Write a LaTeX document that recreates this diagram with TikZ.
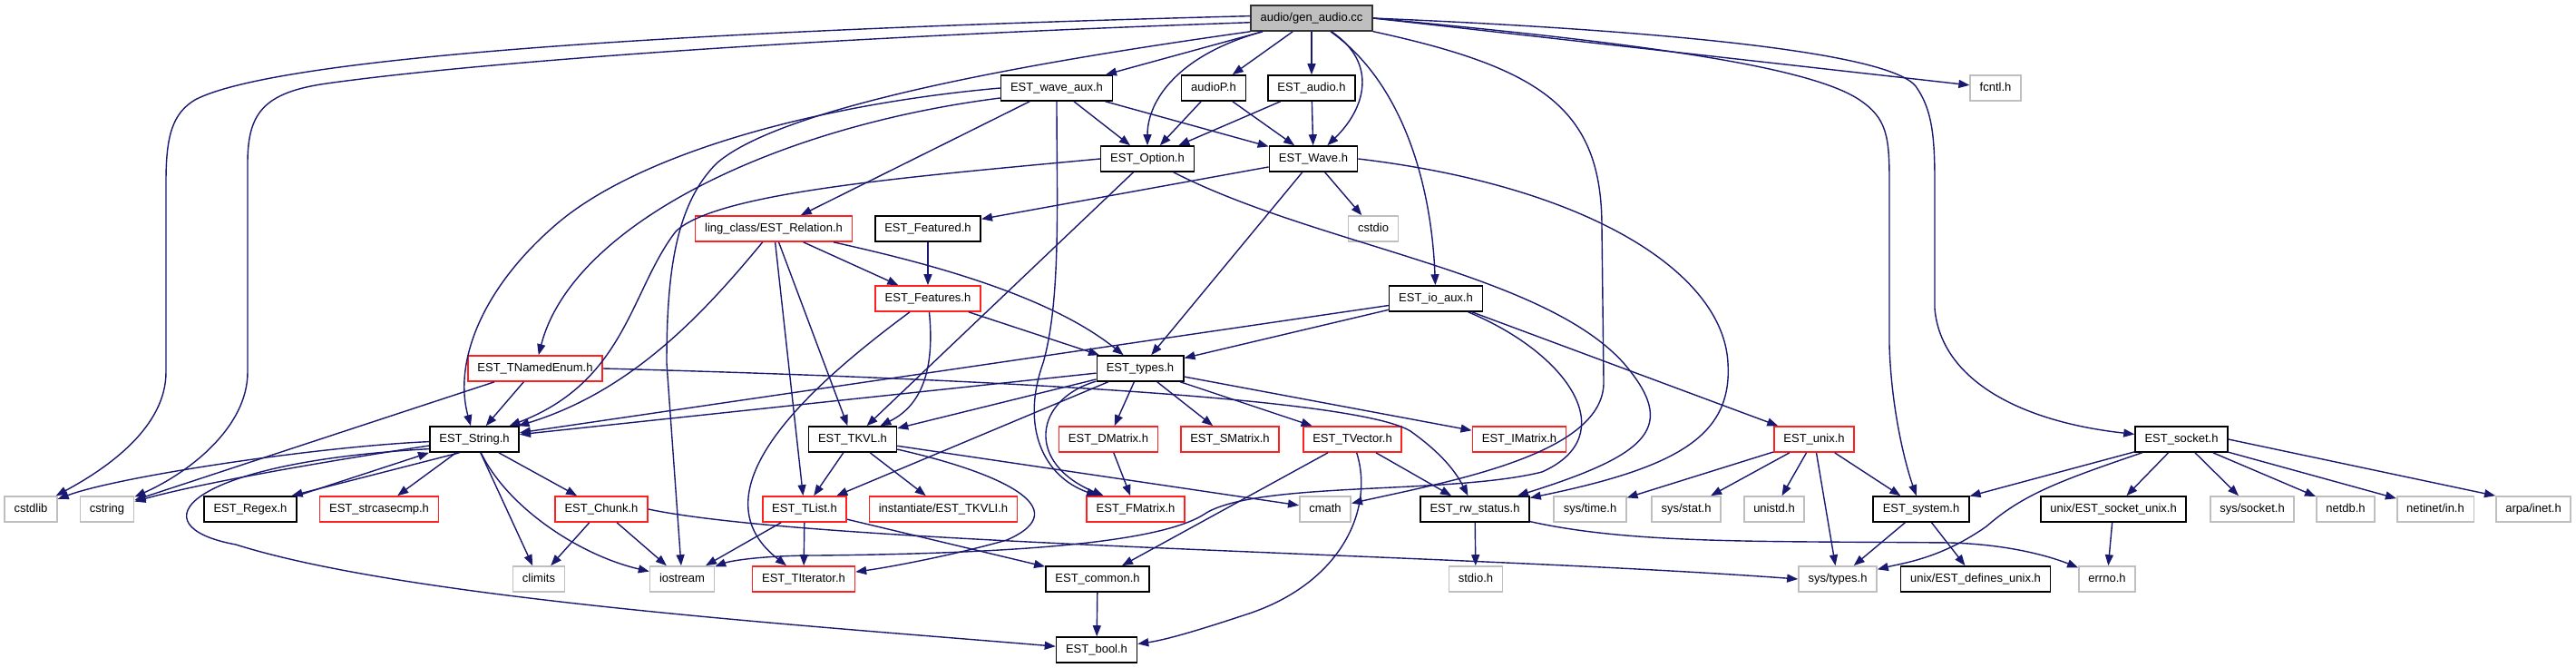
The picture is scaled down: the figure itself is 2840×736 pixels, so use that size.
\documentclass[tikz,border=0pt]{standalone}
\usepackage{fontspec}
\setmainfont{Liberation Sans}
\usepackage{xcolor}
\definecolor{docblue}{HTML}{191970}
\definecolor{docgray}{HTML}{BFBFBF}
\definecolor{docred}{HTML}{FF2020}
\usetikzlibrary{arrows.meta}

\begin{document}
\begin{tikzpicture}[
		x=1pt, y=-1pt,
		>={Triangle[length=12pt,width=9pt]},
		every node/.style={font=\fontsize{13}{15}\selectfont, minimum height=28pt, inner xsep=10.5pt, inner ysep=0pt, text height=9.4pt, text depth=2.6pt, line width=1.6pt, fill=white},
		topfile/.style={draw=black!80, fill=docgray},
		usrfile/.style={draw=black},
		redfile/.style={draw=docred},
		sysfile/.style={draw=docgray},
		incl/.style={->, draw=docblue, line width=1.4pt}
	]
		\def\rA{20}
		\def\rB{97}
		\def\rC{175}
		\def\rD{252}
		\def\rE{329}
		\def\rF{406}
		\def\rG{484}
		\def\rH{561}
		\def\rI{638}
		\def\rJ{716}

		\useasboundingbox (0,0) rectangle (2840,736);

		% The file itself
		\node[topfile] (GenAudio) at (1446,\rA) {audio/gen\_audio.cc};

		% Headers, row by row
		\node[usrfile] (WaveAux) at (1165,\rB) {EST\_wave\_aux.h};
		\node[usrfile] (AudioP) at (1338,\rB) {audioP.h};
		\node[usrfile] (EstAudio) at (1446,\rB) {EST\_audio.h};
		\node[sysfile] (Fcntl) at (2200,\rB) {fcntl.h};

		\node[usrfile] (Option) at (1265,\rC) {EST\_Option.h};
		\node[usrfile] (Wave) at (1448,\rC) {EST\_Wave.h};

		\node[redfile] (Relation) at (853,\rD) {ling\_class/EST\_Relation.h};
		\node[usrfile] (Featured) at (1023,\rD) {EST\_Featured.h};
		\node[sysfile] (CStdio) at (1514,\rD) {cstdio};

		\node[redfile] (Features) at (1023,\rE) {EST\_Features.h};
		\node[usrfile] (IoAux) at (1583,\rE) {EST\_io\_aux.h};

		\node[redfile] (TNamedEnum) at (590,\rF) {EST\_TNamedEnum.h};
		\node[usrfile] (Types) at (1257,\rF) {EST\_types.h};

		\node[usrfile] (EstString) at (523,\rG) {EST\_String.h};
		\node[usrfile] (TKVL) at (940,\rG) {EST\_TKVL.h};
		\node[redfile] (DMatrix) at (1222,\rG) {EST\_DMatrix.h};
		\node[redfile] (SMatrix) at (1356,\rG) {EST\_SMatrix.h};
		\node[redfile] (TVector) at (1491,\rG) {EST\_TVector.h};
		\node[redfile] (IMatrix) at (1675,\rG) {EST\_IMatrix.h};
		\node[redfile] (Unix) at (2000,\rG) {EST\_unix.h};
		\node[usrfile] (Socket) at (2405,\rG) {EST\_socket.h};

		\node[sysfile] (CStdlib) at (34,\rH) {cstdlib};
		\node[sysfile] (CString) at (118,\rH) {cstring};
		\node[usrfile] (Regex) at (276,\rH) {EST\_Regex.h};
		\node[redfile] (StrCaseCmp) at (418,\rH) {EST\_strcasecmp.h};
		\node[redfile] (Chunk) at (663,\rH) {EST\_Chunk.h};
		\node[redfile] (TList) at (887,\rH) {EST\_TList.h};
		\node[redfile] (TKVLI) at (1040,\rH) {instantiate/EST\_TKVLI.h};
		\node[redfile] (FMatrix) at (1252,\rH) {EST\_FMatrix.h};
		\node[sysfile] (CMath) at (1461,\rH) {cmath};
		\node[usrfile] (RwStatus) at (1626,\rH) {EST\_rw\_status.h};
		\node[sysfile] (SysTime) at (1753,\rH) {sys/time.h};
		\node[sysfile] (SysStat) at (1859,\rH) {sys/stat.h};
		\node[sysfile] (Unistd) at (1956,\rH) {unistd.h};
		\node[usrfile] (System) at (2118,\rH) {EST\_system.h};
		\node[usrfile] (SocketUnix) at (2330,\rH) {unix/EST\_socket\_unix.h};
		\node[sysfile] (SysSocket) at (2483,\rH) {sys/socket.h};
		\node[sysfile] (Netdb) at (2586,\rH) {netdb.h};
		\node[sysfile] (Netinet) at (2685,\rH) {netinet/in.h};
		\node[sysfile] (ArpaInet) at (2793,\rH) {arpa/inet.h};

		\node[sysfile] (Climits) at (594,\rI) {climits};
		\node[sysfile] (Iostream) at (752,\rI) {iostream};
		\node[redfile] (TIterator) at (886,\rI) {EST\_TIterator.h};
		\node[usrfile] (Common) at (1210,\rI) {EST\_common.h};
		\node[sysfile] (Stdio) at (1627,\rI) {stdio.h};
		\node[sysfile] (SysTypes) at (2026,\rI) {sys/types.h};
		\node[usrfile] (DefinesUnix) at (2178,\rI) {unix/EST\_defines\_unix.h};
		\node[sysfile] (Errno) at (2323,\rI) {errno.h};

		\node[usrfile] (EstBool) at (1209,\rJ) {EST\_bool.h};

		% Includes of the file itself
		\draw[incl] (GenAudio.178) .. controls (900,30) and (320,55) .. (215,110) .. controls (190,125) and (183,150) .. (183,200) -- (183,410) .. controls (183,470) and (120,515) .. (CStdlib);
		\draw[incl] (GenAudio.184) .. controls (800,45) and (480,75) .. (360,92) .. controls (290,102) and (273,125) .. (273,180) -- (273,410) .. controls (273,470) and (210,520) .. (CString);
		\draw[incl] (GenAudio.south west) .. controls (1200,60) and (870,110) .. (790,180) .. controls (745,225) and (735,300) .. (735,400) -- (Iostream);
		\draw[incl] (GenAudio) -- (WaveAux);
		\draw[incl] (GenAudio) .. controls (1300,60) and (1265,110) .. (Option);
		\draw[incl] (GenAudio) -- (AudioP);
		\draw[incl] (GenAudio) -- (EstAudio);
		\draw[incl] (GenAudio) .. controls (1520,70) and (1505,120) .. (Wave);
		\draw[incl] (GenAudio) .. controls (1545,90) and (1578,200) .. (IoAux);
		\draw[incl] (GenAudio) .. controls (1700,75) and (1766,120) .. (1766,250) -- (1768,420) .. controls (1770,500) and (1600,530) .. (CMath);
		\draw[incl] (GenAudio.east) .. controls (1780,45) and (1990,70) .. (2050,110) .. controls (2080,130) and (2083,150) .. (2083,200) -- (2083,380) .. controls (2085,450) and (2100,510) .. (System);
		\draw[incl] (GenAudio.east) .. controls (1800,32) and (2080,55) .. (2112,95) .. controls (2130,120) and (2133,150) .. (2133,200) -- (2133,340) .. controls (2140,420) and (2230,465) .. (Socket);
		\draw[incl] (GenAudio.east) -- (Fcntl);

		% EST_wave_aux.h, audioP.h, EST_audio.h
		\draw[incl] (WaveAux) -- (Option);
		\draw[incl] (WaveAux) -- (Wave);
		\draw[incl] (WaveAux) -- (Relation);
		\draw[incl] (WaveAux.west) .. controls (900,115) and (700,170) .. (610,250) .. controls (530,320) and (500,400) .. (EstString);
		\draw[incl] (WaveAux.190) .. controls (850,140) and (630,250) .. (TNamedEnum);
		\draw[incl] (WaveAux) .. controls (1165,220) and (1170,330) .. (1150,400) .. controls (1125,470) and (1150,525) .. (FMatrix);
		\draw[incl] (AudioP) -- (Option);
		\draw[incl] (AudioP) -- (Wave);
		\draw[incl] (EstAudio) -- (Option);
		\draw[incl] (EstAudio) -- (Wave);

		% EST_Option.h and EST_Wave.h
		\draw[incl] (Option.west) .. controls (1000,195) and (790,212) .. (745,255) .. controls (695,320) and (690,420) .. (EstString);
		\draw[incl] (Option) -- (TKVL);
		\draw[incl] (Option) .. controls (1450,270) and (1700,300) .. (1790,400) .. controls (1850,470) and (1820,500) .. (RwStatus);
		\draw[incl] (Wave) -- (Featured);
		\draw[incl] (Wave) -- (CStdio);
		\draw[incl] (Wave) -- (Types);
		\draw[incl] (Wave.east) .. controls (1750,205) and (1900,300) .. (1905,400) .. controls (1910,480) and (1850,515) .. (RwStatus);

		% Features and relations
		\draw[incl] (Featured) -- (Features);
		\draw[incl] (Relation) -- (Features);
		\draw[incl] (Relation) .. controls (1000,285) and (1150,320) .. (Types);
		\draw[incl] (Relation) .. controls (780,340) and (700,430) .. (EstString);
		\draw[incl] (Relation) -- (TList);
		\draw[incl] (Relation) -- (TKVL);
		\draw[incl] (Features) -- (Types);
		\draw[incl] (Features) .. controls (1030,400) and (1020,445) .. (TKVL);
		\draw[incl] (Features) .. controls (900,420) and (760,540) .. (TIterator);

		% EST_io_aux.h
		\draw[incl] (IoAux) -- (EstString);
		\draw[incl] (IoAux) -- (Types);
		\draw[incl] (IoAux) -- (Unix);
		\draw[incl] (IoAux) .. controls (1730,390) and (1790,480) .. (1700,520) .. controls (1600,545) and (1390,530) .. (1330,565) .. controls (1280,600) and (1100,610) .. (900,612) .. controls (840,612) and (805,618) .. (Iostream);

		% EST_TNamedEnum.h and EST_types.h
		\draw[incl] (TNamedEnum) -- (CString);
		\draw[incl] (TNamedEnum) -- (EstString);
		\draw[incl] (TNamedEnum.east) .. controls (1000,415) and (1490,435) .. (1555,475) .. controls (1590,500) and (1605,520) .. (RwStatus);
		\draw[incl] (Types) -- (EstString);
		\draw[incl] (Types) -- (TKVL);
		\draw[incl] (Types) -- (TList);
		\draw[incl] (Types) -- (DMatrix);
		\draw[incl] (Types) -- (SMatrix);
		\draw[incl] (Types) -- (TVector);
		\draw[incl] (Types) -- (IMatrix);
		\draw[incl] (Types) .. controls (1140,440) and (1130,510) .. (FMatrix);

		% Templates and matrices
		\draw[incl] (TKVL) -- (TList);
		\draw[incl] (TKVL) -- (TKVLI);
		\draw[incl] (TKVL) -- (CMath);
		\draw[incl] (TKVL) .. controls (1100,520) and (1190,560) .. (1110,595) .. controls (1050,612) and (980,625) .. (TIterator);
		\draw[incl] (DMatrix) -- (FMatrix);
		\draw[incl] (TVector) -- (Common);
		\draw[incl] (TVector) -- (RwStatus);
		\draw[incl] (TVector) .. controls (1515,560) and (1480,640) .. (1380,675) .. controls (1320,695) and (1285,705) .. (EstBool);
		\draw[incl] (TList) -- (Iostream);
		\draw[incl] (TList) -- (TIterator);
		\draw[incl] (TList) -- (Common);
		\draw[incl] (Common) -- (EstBool);

		% EST_String.h and EST_Chunk.h
		\draw[incl] (EstString.183) .. controls (350,492) and (130,525) .. (CStdlib);
		\draw[incl] (EstString.188) .. controls (380,505) and (230,530) .. (CString);
		\draw[incl] (EstString.222) -- (Regex.18);
		\draw[incl] (Regex.north east) -- (EstString.south west);
		\draw[incl] (EstString) -- (StrCaseCmp);
		\draw[incl] (EstString) -- (Chunk);
		\draw[incl] (EstString) -- (Climits);
		\draw[incl] (EstString) .. controls (560,560) and (640,612) .. (Iostream);
		\draw[incl] (EstString.192) .. controls (200,510) and (150,580) .. (260,600) .. controls (450,660) and (900,690) .. (EstBool);
		\draw[incl] (Chunk) -- (Climits);
		\draw[incl] (Chunk) -- (Iostream);
		\draw[incl] (Chunk.east) .. controls (900,600) and (1600,610) .. (SysTypes.west);

		% System side
		\draw[incl] (RwStatus) -- (Stdio);
		\draw[incl] (RwStatus) .. controls (1800,600) and (1950,596) .. (2150,598) .. controls (2220,600) and (2265,615) .. (Errno);
		\draw[incl] (Unix) -- (SysTime);
		\draw[incl] (Unix) -- (SysStat);
		\draw[incl] (Unix) -- (Unistd);
		\draw[incl] (Unix) -- (SysTypes);
		\draw[incl] (Unix) -- (System);
		\draw[incl] (System) -- (SysTypes);
		\draw[incl] (System) -- (DefinesUnix);
		\draw[incl] (Socket) -- (System);
		\draw[incl] (Socket) .. controls (2270,530) and (2230,545) .. (2190,580) .. controls (2140,615) and (2100,620) .. (SysTypes);
		\draw[incl] (Socket) -- (SocketUnix);
		\draw[incl] (Socket) -- (SysSocket);
		\draw[incl] (Socket) -- (Netdb);
		\draw[incl] (Socket) -- (Netinet);
		\draw[incl] (Socket.east) -- (ArpaInet.north west);
		\draw[incl] (SocketUnix) -- (Errno);
	\end{tikzpicture}
\end{document}
